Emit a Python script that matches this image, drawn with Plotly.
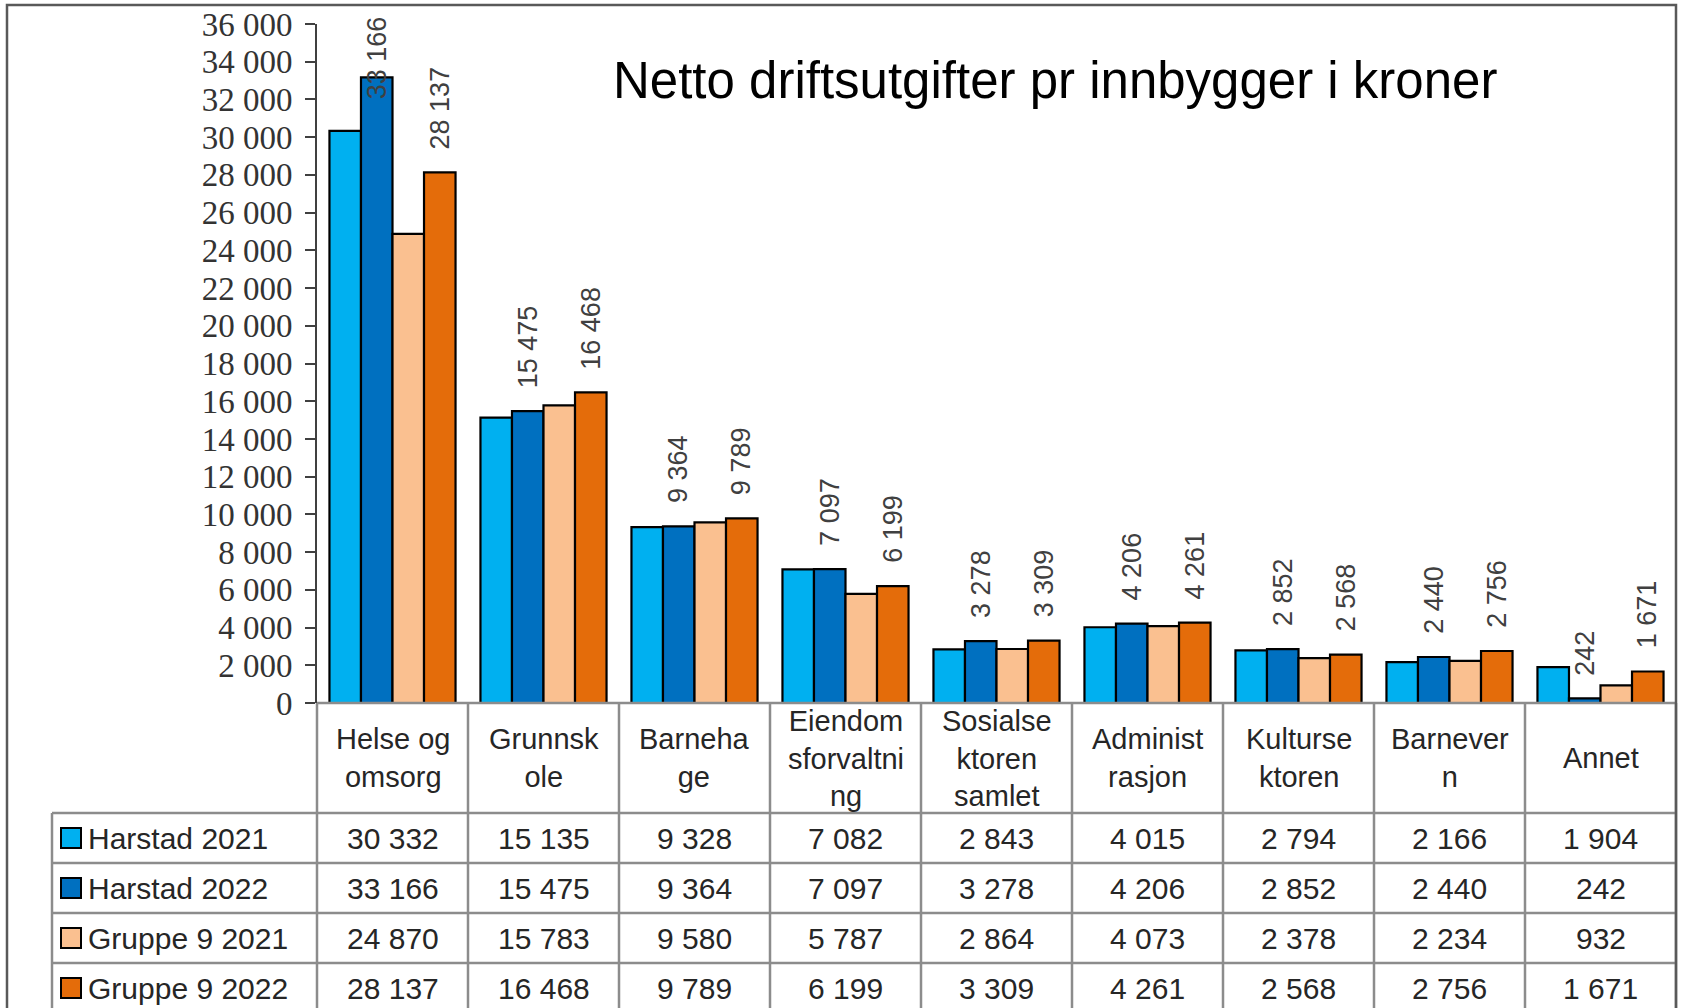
import plotly.graph_objects as go

# ---------------- data ----------------
categories = ["Helse og omsorg", "Grunnskole", "Barnehage", "Eiendomsforvaltning",
              "Sosialsektoren samlet", "Administrasjon", "Kultursektoren", "Barnevern", "Annet"]
category_labels = ["Helse og<br>omsorg", "Grunnsk<br>ole", "Barneha<br>ge",
                   "Eiendom<br>sforvaltni<br>ng", "Sosialse<br>ktoren<br>samlet",
                   "Administ<br>rasjon", "Kulturse<br>ktoren", "Barnever<br>n", "Annet"]
series_names = ["Harstad 2021", "Harstad 2022", "Gruppe 9 2021", "Gruppe 9 2022"]
harstad_2021 = [30332, 15135, 9328, 7082, 2843, 4015, 2794, 2166, 1904]
harstad_2022 = [33166, 15475, 9364, 7097, 3278, 4206, 2852, 2440, 242]
gruppe9_2021 = [24870, 15783, 9580, 5787, 2864, 4073, 2378, 2234, 932]
gruppe9_2022 = [28137, 16468, 9789, 6199, 3309, 4261, 2568, 2756, 1671]
labelled_series = [1, 3]   # series that show data labels above bars
y_ticks = list(range(0, 36001, 2000))
title_text = "Netto driftsutgifter pr innbygger i kroner"

series_values = [harstad_2021, harstad_2022, gruppe9_2021, gruppe9_2022]
colors = ["#00B0F0", "#0070C0", "#FAC090", "#E46C0A"]

# ---------------- geometry ----------------
W, H = 1681, 1008
L, R, T, B = 317, 5, 24, 305
PW = W - L - R
PH = H - T - B
Y_MAX = 36000
BARGAP = 0.165
N = len(categories)


def px_x(px):
    return (px - L) / PW


def px_y(py):
    return (H - B - py) / PH


def fmt(v):
    return f"{v:,}".replace(",", " ")


SANS = "Liberation Sans, Arial, sans-serif"
SERIF = "Liberation Serif, Times New Roman, serif"
GRID = "#8C8C8C"
TXT = "#262626"

fig = go.Figure()
for name, vals, col in zip(series_names, series_values, colors):
    fig.add_trace(go.Bar(
        name=name, x=categories, y=vals,
        marker=dict(color=col, line=dict(color="#000000", width=2.2)),
        showlegend=False, hoverinfo="x+y+name",
    ))

annotations = []
shapes = []

# data labels above bars (rotated)
bw = (1 - BARGAP) / len(series_names)
label_len_px = 110
for j in labelled_series:
    off = (j - (len(series_names) - 1) / 2) * bw
    for i, v in enumerate(series_values[j]):
        need = v + label_len_px / PH * Y_MAX
        if need > Y_MAX:
            annotations.append(dict(x=i + off, y=Y_MAX, xref="x", yref="y",
                                    text=fmt(v), textangle=-90, showarrow=False,
                                    yanchor="top", xanchor="center", yshift=10,
                                    font=dict(family=SANS, size=27, color="#404040")))
        else:
            annotations.append(dict(x=i + off, y=v, xref="x", yref="y",
                                    text=fmt(v), textangle=-90, showarrow=False,
                                    yanchor="bottom", xanchor="center", yshift=21,
                                    font=dict(family=SANS, size=27, color="#404040")))

# title
annotations.append(dict(x=px_x(1055), y=px_y(80), xref="paper", yref="paper",
                        text=title_text, showarrow=False, xanchor="center", yanchor="middle",
                        font=dict(family=SANS, size=51, color="#000000")))

# ---------------- data table ----------------
header_top, header_bot = 703, 813
row_h = 50
row_tops = [header_bot + k * row_h for k in range(len(series_names))]
table_left = 52
table_right = L + PW
table_bottom = header_bot + row_h * len(series_names)

# category header labels
for i, lab in enumerate(category_labels):
    annotations.append(dict(x=i, y=px_y((header_top + header_bot) / 2), xref="x", yref="paper",
                            text=lab, showarrow=False, xanchor="center", yanchor="middle",
                            font=dict(family=SANS, size=29, color=TXT)))

# value rows + legend keys
for k, (name, vals, col) in enumerate(zip(series_names, series_values, colors)):
    cy = row_tops[k] + row_h / 2
    for i, v in enumerate(vals):
        annotations.append(dict(x=i, y=px_y(cy), xref="x", yref="paper",
                                text=fmt(v), showarrow=False, xanchor="center", yanchor="middle",
                                font=dict(family=SANS, size=30, color=TXT)))
    annotations.append(dict(x=px_x(86), y=px_y(cy), xref="paper", yref="paper",
                            text=name, showarrow=False, xanchor="left", yanchor="middle",
                            font=dict(family=SANS, size=30, color=TXT)))
    shapes.append(dict(type="rect", xref="paper", yref="paper",
                       x0=px_x(61), x1=px_x(81), y0=px_y(cy - 10), y1=px_y(cy + 10),
                       fillcolor=col, line=dict(color="#000000", width=2)))

# grid lines of the table
shapes.append(dict(type="line", xref="paper", yref="paper", x0=0, x1=1,
                   y0=px_y(header_top), y1=px_y(header_top), line=dict(color=GRID, width=2.5)))
for yy in row_tops:
    shapes.append(dict(type="line", xref="paper", yref="paper", x0=px_x(table_left), x1=1,
                       y0=px_y(yy), y1=px_y(yy), line=dict(color=GRID, width=2.5)))
for k in range(N + 1):
    shapes.append(dict(type="line", xref="paper", yref="paper", x0=k / N, x1=k / N,
                       y0=px_y(header_top), y1=px_y(table_bottom), line=dict(color=GRID, width=2.5)))
shapes.append(dict(type="line", xref="paper", yref="paper", x0=px_x(table_left), x1=px_x(table_left),
                   y0=px_y(header_bot), y1=px_y(table_bottom), line=dict(color=GRID, width=2.5)))

# outer chart border
shapes.append(dict(type="rect", xref="paper", yref="paper",
                   x0=px_x(7), x1=px_x(1676), y0=px_y(1015), y1=px_y(5),
                   line=dict(color="#595959", width=2.5), fillcolor="rgba(0,0,0,0)"))

fig.update_layout(
    width=W, height=H,
    margin=dict(l=L, r=R, t=T, b=B, autoexpand=False),
    paper_bgcolor="white", plot_bgcolor="white",
    barmode="group", bargap=BARGAP, bargroupgap=0,
    separators=", ",
    showlegend=False,
    annotations=annotations, shapes=shapes,
    xaxis=dict(type="category", range=[-0.5, N - 0.5], showticklabels=False,
               showline=False, showgrid=False, zeroline=False, ticks=""),
    yaxis=dict(range=[0, Y_MAX], tickvals=y_ticks, tickformat=",d",
               ticks="outside", ticklen=10, tickwidth=2, tickcolor="#404040",
               showline=True, linecolor="#404040", linewidth=2,
               showgrid=False, zeroline=False, ticklabelstandoff=6,
               tickfont=dict(family=SERIF, size=33, color="#333333")),
)

fig.write_html("out.html", config={"displayModeBar": False},
               post_script="document.body.style.margin='0';document.body.style.overflow='hidden';")
